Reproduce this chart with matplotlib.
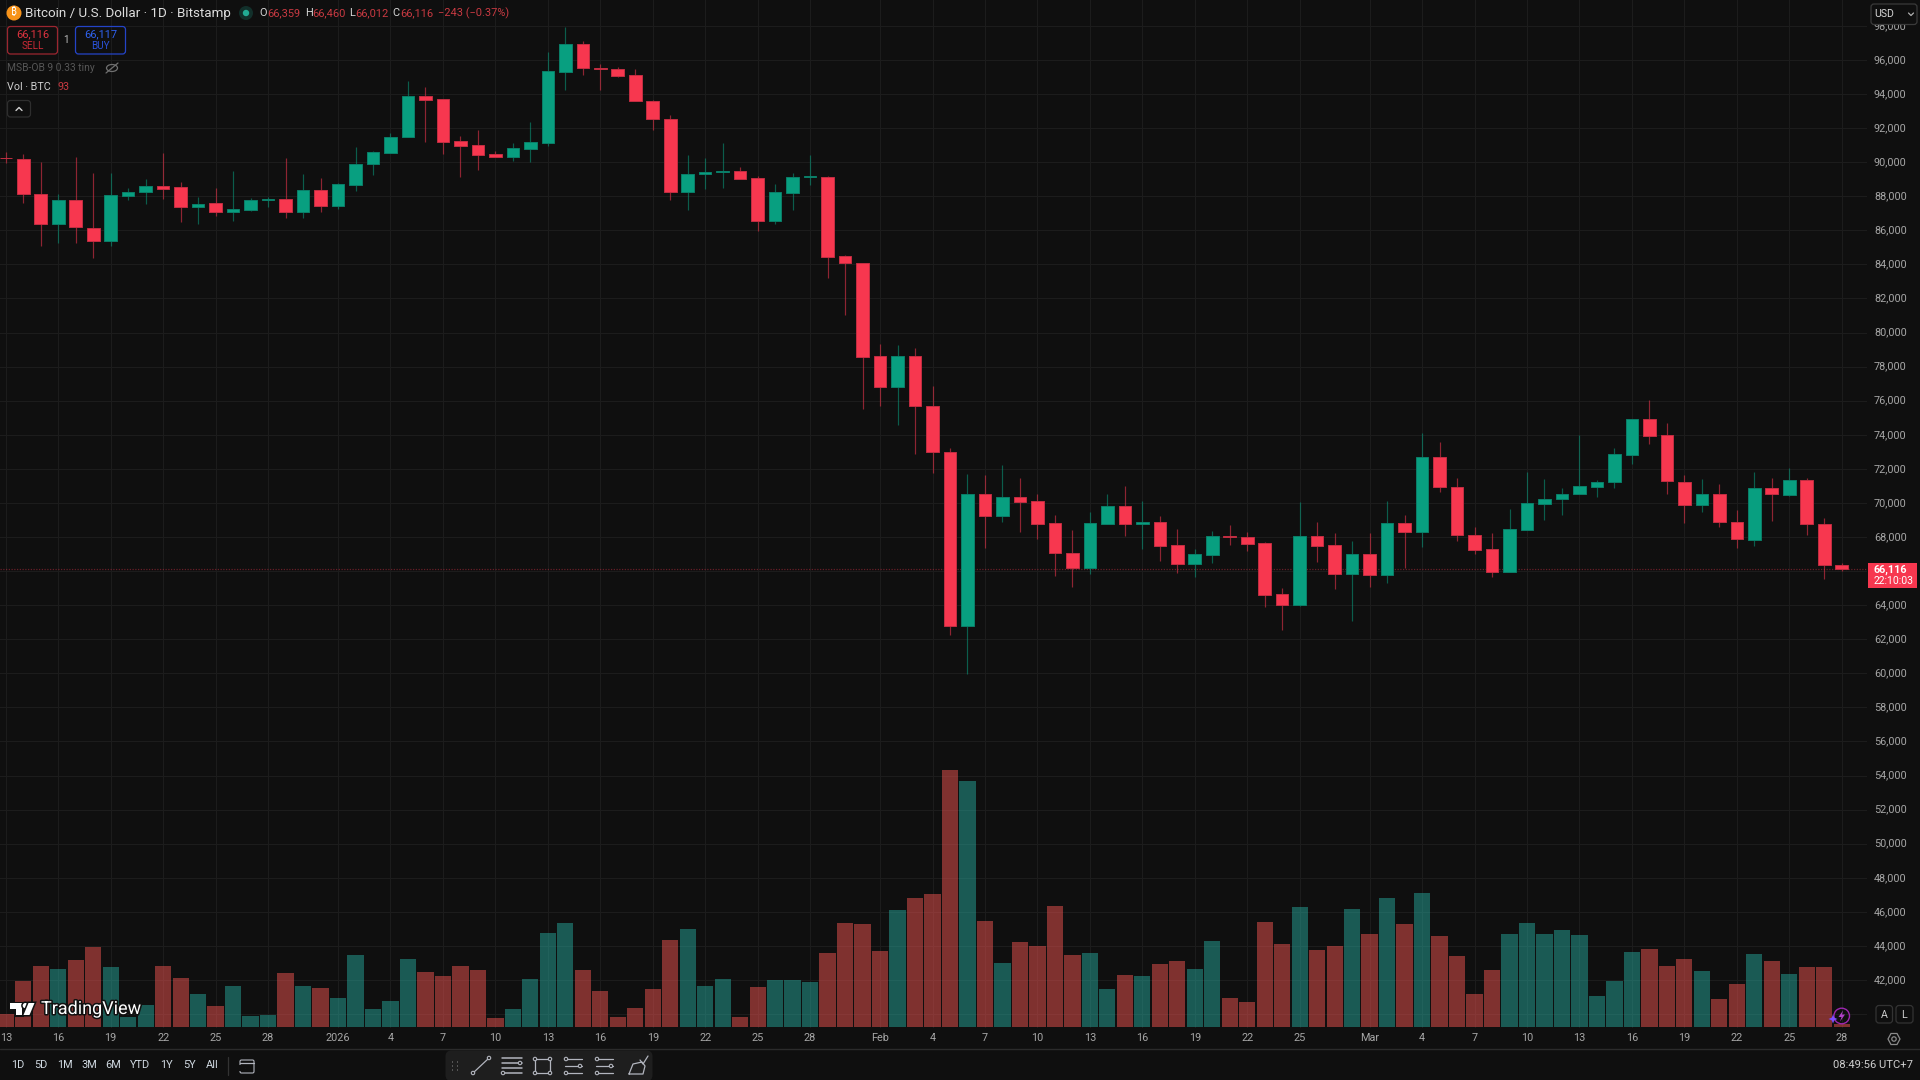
import matplotlib
matplotlib.use("Agg")
import matplotlib.pyplot as plt
import matplotlib.patheffects as pe
from matplotlib.patches import Circle, Ellipse, FancyBboxPatch, Polygon, Rectangle
from matplotlib import font_manager as fm
from matplotlib.ft2font import FT2Font

plt.rcParams["font.family"] = ["Roboto", "DejaVu Sans"]


def family_with_glyph(char, names):
    """First installed family out of names whose font file carries char."""
    for name in names:
        try:
            path = fm.findfont(fm.FontProperties(family=name), fallback_to_default=False)
        except ValueError:
            continue
        if FT2Font(path).get_char_index(ord(char)):
            return name
    return None


# Daily BTC/USD candles, 13 Dec 2025 to 28 Mar 2026
opens = [90260, 90210, 88137, 86357, 87785, 86161, 85398, 88039, 88254, 88626, 88548, 87354, 87589, 87100, 87218, 87785,
         87824, 87061, 88372, 87452, 88685, 89878, 90543, 91462, 93868, 93692, 91227, 91012, 90484, 90308, 90797, 91149,
         95296, 96919, 95550, 95491, 95100, 93614, 92538, 88254, 89310, 89447, 89467, 89076, 86533, 88215, 89134, 89154,
         84479, 84088, 78631, 76831, 78631, 75668, 73007, 62797, 70543, 69232, 70328, 70113, 68822, 67061, 66181, 68782,
         69800, 68782, 68861, 67511, 66416, 66944, 68059, 67980, 67648, 64636, 64029, 68039, 67511, 65848, 67022, 65751,
         68822, 68293, 72694, 70934, 68117, 67276, 65966, 68430, 69936, 70210, 70504, 70954, 71227, 72831, 74905, 73985,
         71247, 69897, 70543, 68900, 67824, 70895, 70484, 71325, 68782, 66359]
highs = [90582, 90484, 89995, 88117, 90308, 89389, 89350, 88509, 88998, 90523, 88861, 87980, 88509, 89487, 87883, 87980,
         90269, 89310, 89076, 88763, 90895, 90680, 91697, 94748, 94396, 93720, 91540, 91892, 90660, 91110, 92381, 96469,
         97917, 97134, 95765, 95570, 95452, 93650, 92773, 90425, 90230, 91110, 89741, 89193, 88724, 89389, 90406, 89213,
         84577, 84100, 79315, 79257, 79081, 76880, 73203, 71697, 71638, 72225, 71443, 70504, 69291, 68411, 69447, 70543,
         70973, 70113, 69213, 68469, 67296, 68352, 68704, 68274, 67687, 64988, 70034, 68861, 68215, 67765, 68215, 70132,
         69291, 74103, 73594, 71443, 68567, 68215, 69624, 71834, 71403, 70856, 73985, 71325, 73223, 74925, 76039, 74670,
         71638, 71403, 71110, 69584, 71795, 71443, 72049, 71443, 69135, 66460]
lows = [89936, 87589, 85105, 85242, 85242, 84362, 85086, 87765, 87550, 87843, 86513, 86357, 86865, 86572, 87159, 87354,
        86709, 86709, 87061, 87237, 88293, 89252, 90543, 91462, 91188, 90504, 89154, 89545, 90308, 90093, 90015, 90954,
        94240, 95139, 94240, 94983, 93575, 91912, 87785, 87198, 88430, 88469, 89037, 85985, 86396, 87198, 88665, 83227,
        81037, 75512, 75707, 74572, 72890, 71736, 62249, 59980, 67335, 68861, 68293, 67883, 65731, 65086, 65829, 68743,
        68078, 67296, 66592, 65888, 65672, 66474, 67550, 67198, 63912, 62543, 63971, 66553, 64968, 63071, 65086, 65320,
        66181, 67413, 70660, 67765, 66983, 65653, 65927, 68430, 68998, 69271, 70504, 70328, 70895, 72303, 73457, 70504,
        68841, 69447, 68606, 67374, 67491, 68919, 70425, 68117, 65535, 66012]
closes = [90240, 88117, 86357, 87785, 86181, 85398, 88059, 88274, 88587, 88450, 87374, 87570, 87100, 87257, 87804, 87843,
          87061, 88372, 87452, 88724, 89917, 90582, 91482, 93868, 93672, 91188, 90973, 90445, 90308, 90836, 91188, 95335,
          96919, 95511, 95491, 95081, 93575, 92518, 88254, 89330, 89428, 89487, 89037, 86533, 88235, 89115, 89174, 84460,
          84068, 78572, 76831, 78631, 75668, 72988, 62797, 70543, 69232, 70328, 70073, 68782, 67042, 66181, 68822, 69800,
          68782, 68861, 67491, 66416, 66983, 68039, 68000, 67609, 64597, 64029, 68039, 67491, 65848, 67022, 65751, 68822,
          68293, 72694, 70914, 68098, 67237, 65966, 68469, 69976, 70230, 70543, 70973, 71247, 72870, 74905, 73907, 71267,
          69897, 70543, 68880, 67863, 70895, 70504, 71345, 68743, 66376, 66116]
volumes = [437, 1564, 2093, 1978, 2312, 2749, 2070, 345, 748, 2093, 1679, 1116, 725, 1403, 368, 414,
           1863, 1403, 1323, 989, 2461, 598, 886, 2323, 1886, 1760, 2093, 1944, 311, 621, 1656, 3232,
           3565, 1944, 1242, 334, 644, 1300, 2979, 3358, 1403, 1633, 334, 1357, 1610, 1610, 1553, 2542,
           3577, 3531, 2599, 4037, 4451, 4566, 8855, 8464, 3646, 2197, 2921, 2795, 4175, 2461, 2530, 1300,
           1783, 1760, 2174, 2254, 1990, 2944, 989, 863, 3623, 2852, 4140, 2645, 2795, 4060, 3186, 4428,
           3542, 4600, 3128, 2438, 1116, 1944, 3209, 3565, 3186, 3335, 3151, 1058, 1576, 2588, 2691, 2093,
           2323, 1909, 955, 1472, 2507, 2277, 1817, 2070, 2070, 93]

time_ticks = [0, 3, 6, 9, 12, 15, 19, 22, 25, 28, 31, 34, 37, 40, 43, 46, 50, 53, 56, 59, 62, 65, 68, 71, 74, 78,
              81, 84, 87, 90, 93, 96, 99, 102, 105]
time_labels = ["13", "16", "19", "22", "25", "28", "2026", "4", "7", "10", "13", "16", "19", "22", "25", "28", "Feb",
               "4", "7", "10", "13", "16", "19", "22", "25", "Mar", "4", "7", "10", "13", "16", "19", "22", "25", "28"]
price_ticks = list(range(40000, 100000, 2000))
range_buttons = ["1D", "5D", "1M", "3M", "6M", "YTD", "1Y", "5Y", "All"]

BG = "#0f0f0f"
GRID = "#1c1c1c"
UP = "#089f80"
DOWN = "#f7374f"
TEXT = "#d6d6d6"
AXIS_TEXT = "#a6a6a6"
ICON = "#b2b5be"

W, H = 1920, 1080
PANE_RIGHT, PANE_BOTTOM = 1867, 1028
fig = plt.figure(figsize=(W / 100, H / 100), dpi=100, facecolor=BG)
rect = [0, 1 - PANE_BOTTOM / H, PANE_RIGHT / W, PANE_BOTTOM / H]

# Price pane: one candle every 17.485 px, 34.08 px per 2,000 USD
ax = fig.add_axes(rect, facecolor=BG, zorder=1)
ax.set_xlim(-5.8 / 17.485, (PANE_RIGHT - 5.8) / 17.485)
ax.set_ylim(60000 + (673.3 - PANE_BOTTOM) * 58.69, 60000 + 673.3 * 58.69)
ax.set_xticks(time_ticks, time_labels)
ax.set_yticks(price_ticks, ["" if p == 40000 else f"{p:,}" for p in price_ticks])
ax.yaxis.tick_right()
ax.tick_params(axis="x", length=0, pad=3.4, labelsize=7.8, labelcolor=AXIS_TEXT)
ax.tick_params(axis="y", length=0, pad=5, labelsize=7.8, labelcolor=AXIS_TEXT)
ax.grid(True, color=GRID, lw=0.8)
ax.set_axisbelow(True)
for s in ax.spines.values():
    s.set_visible(False)
for lab in ax.get_yticklabels():
    lab.set_horizontalalignment("left")
    lab.set_verticalalignment("center")

xs = list(range(len(opens)))
colors = [UP if c >= o else DOWN for o, c in zip(opens, closes)]
edges = ["#0a7f69" if c >= o else "#c22e42" for o, c in zip(opens, closes)]
ax.vlines(xs, lows, highs, colors=colors, linewidth=0.85, alpha=0.55, zorder=3)
ax.bar(xs, [abs(c - o) for o, c in zip(opens, closes)], bottom=[min(o, c) for o, c in zip(opens, closes)],
       width=0.72, color=colors, edgecolor=edges, linewidth=0.7, zorder=4)
ax.axhline(closes[-1], color=DOWN, alpha=0.38, lw=0.9, ls=(0, (1, 1.2)), zorder=2)

# Volume pane shares the time scale, scaled to 34.5 BTC per pixel
ax_vol = fig.add_axes(rect, facecolor="none", zorder=2)
ax_vol.set_xlim(ax.get_xlim())
ax_vol.set_ylim(-1.3 * 34.5, 1026.7 * 34.5)
ax_vol.axis("off")
vol_colors = ["#26a69a" if c >= o else "#ef5350" for o, c in zip(opens, closes)]
ax_vol.bar(xs, volumes, width=0.93, color=vol_colors, alpha=0.5, linewidth=0)

# Interface layer in pixel coordinates
ui = fig.add_axes([0, 0, 1, 1], facecolor="none", zorder=5)
ui.set_xlim(0, W)
ui.set_ylim(H, 0)
ui.axis("off")


def label(x, y, s, size=11, color=TEXT, ha="left", **kw):
    return ui.text(x, y, s, fontsize=size * 0.72, color=color, ha=ha, va="center", **kw)


def rbox(x0, y0, x1, y1, edge, face="none", r=3, lw=0.9):
    ui.add_patch(FancyBboxPatch((x0 + r, y0 + r), x1 - x0 - 2 * r, y1 - y0 - 2 * r,
                                boxstyle=f"round,pad={r}", ec=edge, fc=face, lw=lw))


def stroke(xpts, ypts, color=ICON, lw=0.9):
    ui.plot(xpts, ypts, color=color, lw=lw, solid_capstyle="round")


def knob(x, y, r=1.7):
    ui.add_patch(Circle((x, y), r, ec=ICON, fc="#1e1e1e", lw=0.8, zorder=6))


# Header line
ui.add_patch(Circle((14, 13), 7.5, fc="#f7931a", ec="none"))
coin_family = family_with_glyph("₿", ["Noto Sans", "Open Sans", "Roboto", "Lato", "Inter", "Liberation Sans",
                                      "DejaVu Sans", "Noto Sans CJK SC"])
if coin_family:
    label(14, 13, "₿", 10, "#ffffff", ha="center", family=[coin_family])
else:
    label(14, 13, "B", 10, "#ffffff", ha="center", fontweight="bold")
label(25, 13, "Bitcoin / U.S. Dollar · 1D · Bitstamp", 13.4, "#dedede")
ui.add_patch(Circle((246, 13), 7, fc="#12302b", ec="none"))
ui.add_patch(Circle((246, 13), 3.2, fc="#22ab94", ec="none"))
HEAD_RED = "#c93a42"
for x, s, c in [(259.5, "O", TEXT), (267, "66,359", HEAD_RED), (305, "H", TEXT), (312, "66,460", HEAD_RED),
                (349, "L", TEXT), (355.5, "66,012", HEAD_RED), (392.5, "C", TEXT), (400, "66,116", HEAD_RED),
                (437.5, "−243 (−0.37%)", HEAD_RED)]:
    label(x, 13, s, 11, c)

# Order buttons
rbox(7.5, 26.5, 57.5, 54, "#9c2630")
rbox(75.5, 26.5, 125.5, 54, "#2444c8")
label(32.5, 34, "66,116", 11, "#e0333f", ha="center")
label(32.5, 46, "SELL", 10, "#c92a36", ha="center")
label(66.5, 40, "1", 10, "#bdbdbd", ha="center")
label(100.5, 34, "66,117", 11, "#2f62f0", ha="center")
label(100.5, 46, "BUY", 10, "#2a52d8", ha="center")

# Indicator legend
label(7, 68, "MSB-OB 9 0.33 tiny", 10.2, "#565656")
ui.add_patch(Ellipse((112, 68), 11, 7, ec="#707070", fc="none", lw=0.9))
stroke([106, 118], [73, 63], "#707070", 0.9)
label(7, 87, "Vol · BTC", 10.8, "#cfcfcf")
label(57, 87, "93", 10.8, "#c93a42")
rbox(7.5, 100.5, 30.5, 117, "#2e2e2e")
stroke([16, 19, 22], [110.5, 107.5, 110.5], "#d0d0d0", 1.0)

# Currency menu and last price tag
rbox(1871, 4, 1917, 24.5, "#3a3a3a", BG)
label(1874, 14, "USD", 10.5, "#d8d8d8")
stroke([1908.5, 1911, 1913.5], [13, 15.5, 13], "#b0b0b0", 0.9)
ui.add_patch(Rectangle((1867.5, 563), 49.5, 25, fc=DOWN, ec="none"))
label(1874, 569.5, "66,116", 10.8, "#ffffff", fontweight="bold")
label(1874, 581, "22:10:03", 10.4, "#ffffff")

# TradingView watermark
outline = [pe.withStroke(linewidth=2.2, foreground="#111111")]
mark = [Polygon([(10, 1003), (22, 1003), (22, 1015), (16, 1015), (16, 1008.5), (10, 1008.5)], fc="#ffffff"),
        Circle((25.3, 1005.6), 2.6, fc="#ffffff"),
        Polygon([(28.5, 1003), (34.5, 1003), (29.5, 1015), (23.5, 1015)], fc="#ffffff")]
for p in mark:
    p.set_edgecolor("none")
    p.set_path_effects(outline)
    ui.add_patch(p)
label(41, 1009, "TradingView", 18, "#ffffff", path_effects=outline)

# Chart corner controls
ui.add_patch(Circle((1841.7, 1016), 7.8, ec="#9c27b0", fc="none", lw=1.0))
ui.add_patch(Polygon([(1843, 1010.5), (1838.5, 1017), (1841.5, 1017), (1840, 1021.5), (1845, 1014.5), (1842, 1014.5)],
                     fc="#b040c8", ec="none"))
ui.add_patch(Polygon([(1833, 1014.5), (1834.3, 1017.7), (1837.5, 1019), (1834.3, 1020.3), (1833, 1023.5),
                      (1831.7, 1020.3), (1828.5, 1019), (1831.7, 1017.7)], fc="#7c4dff", ec="none"))
rbox(1876, 1005.5, 1892.5, 1023, "#333333")
rbox(1896, 1005.5, 1913, 1023, "#333333")
label(1884.2, 1014.5, "A", 10.8, "#cfcfcf", ha="center")
label(1904.5, 1014.5, "L", 10.8, "#cfcfcf", ha="center")
ui.add_patch(Polygon([(1888, 1039), (1891, 1033.5), (1897, 1033.5), (1900, 1039), (1897, 1044.5), (1891, 1044.5)],
                     fc="none", ec="#8a8a8a", lw=0.9))
ui.add_patch(Circle((1894, 1039), 2.2, fc="none", ec="#8a8a8a", lw=0.9))

# Bottom toolbar
stroke([0, W], [1049, 1049], "#2b2b2b", 1.0)
for cx, s in zip([18, 41, 65, 89, 113, 140, 166.5, 189, 212], range_buttons):
    label(cx, 1065, s, 11, "#cfd8e0", ha="center")
stroke([228, 228], [1057, 1075], "#333333", 0.9)
rbox(240, 1060, 254, 1073, ICON, r=1.5, lw=0.8)
stroke([240, 254], [1063, 1063], ICON, 0.9)
ui.add_patch(Rectangle((238, 1065), 7, 6, fc=BG, ec="none", zorder=4))
stroke([238.5, 244], [1068, 1068], ICON, 0.9)
stroke([242, 244, 242], [1066, 1068, 1070], ICON, 0.9)

rbox(445.5, 1050.5, 652.5, 1081, "none", "#1e1e1e", r=6)
for gx in (452.5, 457.5):
    for gy in (1062, 1066, 1070):
        ui.add_patch(Rectangle((gx - 0.8, gy - 0.8), 1.6, 1.6, fc="#555555", ec="none"))
stroke([473, 489], [1073, 1058])
knob(473, 1073)
knob(489, 1058)
for ly in (1058, 1063, 1068, 1073):
    stroke([502, 522], [ly, ly], ICON, 1.1)
knob(520, 1063)
knob(503, 1073)
ui.add_patch(Rectangle((535, 1059), 15, 14, fc="none", ec=ICON, lw=0.9))
for kx, ky in [(535, 1059), (550, 1059), (535, 1073), (550, 1073)]:
    knob(kx, ky)
for x0 in (565, 596):
    stroke([x0, x0 + 17], [1059, 1059], ICON, 0.9)
    stroke([x0, x0 + 17], [1066, 1066], ICON, 0.9)
    stroke([x0, x0 + 17], [1073, 1073], ICON, 0.9)
    knob(x0 + 1, 1059)
    knob(x0 + 15, 1066)
    knob(x0 + 1, 1073)
stroke([629, 633, 642, 645, 643, 633, 629], [1074, 1064, 1062, 1066, 1074, 1074, 1074], ICON, 0.9)
stroke([640, 643, 648], [1060, 1064, 1056], ICON, 0.9)

label(1913, 1065, "08:49:56 UTC+7", 11.2, "#cfcfcf", ha="right")

fig.savefig("out.png", dpi=100, facecolor=BG)
